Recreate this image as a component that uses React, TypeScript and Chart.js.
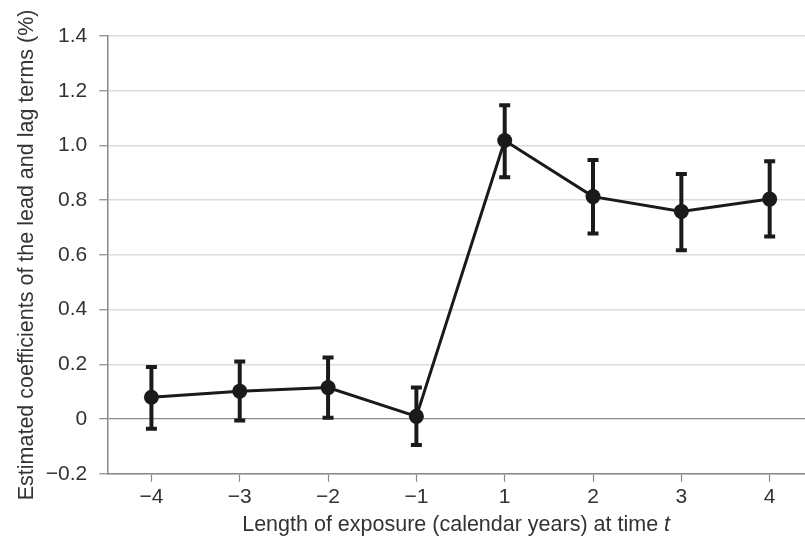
import React, { useEffect, useRef } from "react";
import { Chart, registerables } from "chart.js";

Chart.register(...registerables);

const xLabels = ["−4", "−3", "−2", "−1", "1", "2", "3", "4"];
const coefficients = [0.08, 0.102, 0.115, 0.01, 1.018, 0.813, 0.759, 0.804];
const upperCI = [0.19, 0.21, 0.225, 0.115, 1.147, 0.947, 0.896, 0.942];
const lowerCI = [-0.035, -0.005, 0.005, -0.095, 0.884, 0.678, 0.617, 0.667];
const yTicks = [-0.2, 0, 0.2, 0.4, 0.6, 0.8, 1.0, 1.2, 1.4];

const FONT = "'Liberation Sans', Arial, Helvetica, sans-serif";
const INK = "#1a1a1a";

const errorBarPlugin = {
  id: "errorBars",
  beforeDatasetsDraw(chart: any) {
    const { ctx, scales } = chart;
    const xs = scales.x;
    const ys = scales.y;
    ctx.save();
    ctx.strokeStyle = INK;
    ctx.lineCap = "butt";
    coefficients.forEach((_, i) => {
      const px = xs.getPixelForValue(i);
      const pTop = ys.getPixelForValue(upperCI[i]);
      const pBot = ys.getPixelForValue(lowerCI[i]);
      ctx.lineWidth = 4;
      ctx.beginPath();
      ctx.moveTo(px, pTop);
      ctx.lineTo(px, pBot);
      ctx.stroke();
      ctx.beginPath();
      ctx.moveTo(px - 5.5, pTop);
      ctx.lineTo(px + 5.5, pTop);
      ctx.moveTo(px - 5.5, pBot);
      ctx.lineTo(px + 5.5, pBot);
      ctx.stroke();
    });
    ctx.restore();
  },
};

const xTitlePlugin = {
  id: "xTitle",
  afterDraw(chart: any) {
    const { ctx, chartArea } = chart;
    const main = "Length of exposure (calendar years) at time ";
    const ital = "t";
    const size = 21.5;
    ctx.save();
    ctx.fillStyle = "#333";
    ctx.textBaseline = "alphabetic";
    ctx.font = `${size}px ${FONT}`;
    const w1 = ctx.measureText(main).width;
    ctx.font = `italic ${size}px ${FONT}`;
    const w2 = ctx.measureText(ital).width;
    const cx = (chartArea.left + chartArea.right) / 2;
    const x0 = cx - (w1 + w2) / 2;
    const y = 531;
    ctx.font = `${size}px ${FONT}`;
    ctx.textAlign = "left";
    ctx.fillText(main, x0, y);
    ctx.font = `italic ${size}px ${FONT}`;
    ctx.fillText(ital, x0 + w1, y);
    ctx.restore();
  },
};

export default function App() {
  const ref = useRef<HTMLCanvasElement | null>(null);

  useEffect(() => {
    if (!ref.current) return;
    const chart = new Chart(ref.current, {
      type: "line",
      data: {
        datasets: [
          {
            data: coefficients.map((v, i) => ({ x: i, y: v })),
            borderColor: INK,
            backgroundColor: INK,
            borderWidth: 3,
            pointRadius: 7.5,
            pointBackgroundColor: INK,
            pointBorderColor: INK,
            pointBorderWidth: 0,
            tension: 0,
          },
        ],
      },
      options: {
        responsive: false,
        animation: false,
        devicePixelRatio: 1,
        layout: { autoPadding: false, padding: { left: 10, top: 36, right: 0, bottom: 38 } },
        plugins: {
          legend: { display: false },
          tooltip: { enabled: false },
        },
        scales: {
          x: {
            type: "linear",
            min: -0.5,
            max: 7.4,
            afterBuildTicks: (axis: any) => {
              axis.ticks = xLabels.map((_, i) => ({ value: i }));
            },
            ticks: {
              callback: (v: any) => xLabels[Math.round(Number(v))] ?? "",
              color: "#333",
              font: { family: FONT, size: 21 },
              padding: 3,
              maxRotation: 0,
              autoSkip: false,
            },
            grid: {
              drawOnChartArea: false,
              drawTicks: true,
              tickLength: 8,
              tickColor: "#888",
              tickWidth: 1.2,
            },
            border: { display: true, color: "#888", width: 1.5 },
          },
          y: {
            type: "linear",
            min: -0.2,
            max: 1.4,
            afterBuildTicks: (axis: any) => {
              axis.ticks = yTicks.map((v) => ({ value: v }));
            },
            ticks: {
              callback: (v: any) => {
                const n = Number(v);
                if (Math.abs(n) < 1e-9) return "0";
                return n < 0 ? "−" + Math.abs(n).toFixed(1) : n.toFixed(1);
              },
              color: "#333",
              font: { family: FONT, size: 21 },
              padding: 12,
            },
            grid: {
              color: (c: any) =>
                c.tick && Math.abs(c.tick.value) < 1e-9 ? "#8a8a8a" : "#dcdcdc",
              lineWidth: (c: any) =>
                c.tick && Math.abs(c.tick.value) < 1e-9 ? 1.3 : 1.5,
              tickLength: 8,
              tickColor: "#888",
              tickWidth: 1.2,
            },
            border: { display: true, color: "#888", width: 1.5 },
            title: {
              display: true,
              text: "Estimated coefficients of the lead and lag terms (%)",
              color: "#333",
              font: { family: FONT, size: 21.5 },
              padding: { top: 4, bottom: -6 },
            },
          },
        },
      },
      plugins: [errorBarPlugin, xTitlePlugin],
    });
    return () => chart.destroy();
  }, []);

  return (
    <div style={{ position: "fixed", left: 0, top: 0, width: 805, height: 551, background: "#fff" }}>
      <canvas ref={ref} width={805} height={551} style={{ width: 805, height: 551, display: "block" }} />
    </div>
  );
}
